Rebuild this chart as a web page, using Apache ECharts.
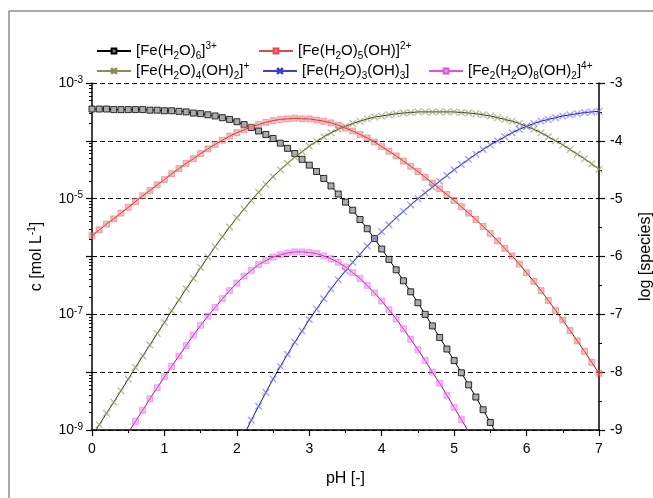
<!DOCTYPE html>
<html lang="en">
<head>
<meta charset="UTF-8">
<title>Fe(III) speciation</title>
<script src="https://cdn.jsdelivr.net/npm/echarts@6/dist/echarts.min.js"></script>
<style>
  html, body { margin: 0; padding: 0; background: #fff; }
</style>
</head>
<body>
<div id="main" style="width:653px;height:498px;"></div>
<script type="text/javascript">
// pH points (x), log10 concentration (y)
var ph = [0.0,0.1,0.2,0.3,0.4,0.5,0.6,0.7,0.8,0.9,
          1.0,1.1,1.2,1.3,1.4,1.5,1.6,1.7,1.8,1.9,
          2.0,2.1,2.2,2.3,2.4,2.5,2.6,2.7,2.8,2.9,
          3.0,3.1,3.2,3.3,3.4,3.5,3.6,3.7,3.8,3.9,
          4.0,4.1,4.2,4.3,4.4,4.5,4.6,4.7,4.8,4.9,
          5.0,5.1,5.2,5.3,5.4,5.5,5.6,5.7,5.8,5.9,
          6.0,6.1,6.2,6.3,6.4,6.5,6.6,6.7,6.8,6.9,
          7.0];

var feH2O6 = [-3.45,-3.45,-3.45,-3.46,-3.46,-3.46,-3.46,-3.46,-3.47,-3.47,
              -3.48,-3.48,-3.49,-3.50,-3.52,-3.53,-3.55,-3.57,-3.60,-3.63,
              -3.67,-3.72,-3.77,-3.83,-3.89,-3.96,-4.04,-4.13,-4.22,-4.32,
              -4.42,-4.53,-4.65,-4.78,-4.92,-5.06,-5.20,-5.36,-5.52,-5.69,
              -5.87,-6.05,-6.23,-6.42,-6.61,-6.80,-7.00,-7.20,-7.40,-7.60,
              -7.80,-8.01,-8.22,-8.43,-8.65,-8.87,-9.10,null,null,null,
              null,null,null,null,null,null,null,null,null,null,
              null];

var feOH = [-5.64,-5.54,-5.44,-5.35,-5.25,-5.15,-5.05,-4.95,-4.86,-4.76,
            -4.67,-4.57,-4.48,-4.39,-4.31,-4.22,-4.14,-4.06,-3.99,-3.92,
            -3.86,-3.81,-3.76,-3.72,-3.68,-3.65,-3.63,-3.62,-3.61,-3.62,
            -3.62,-3.64,-3.66,-3.69,-3.73,-3.78,-3.83,-3.89,-3.95,-4.02,
            -4.10,-4.18,-4.26,-4.35,-4.44,-4.53,-4.63,-4.73,-4.83,-4.93,
            -5.03,-5.14,-5.25,-5.36,-5.48,-5.60,-5.73,-5.86,-5.99,-6.13,
            -6.28,-6.43,-6.59,-6.76,-6.93,-7.10,-7.28,-7.46,-7.64,-7.83,
            -8.02];

var feOH2 = [-9.11,-8.91,-8.71,-8.52,-8.32,-8.12,-7.92,-7.72,-7.53,-7.33,
             -7.14,-6.94,-6.75,-6.56,-6.38,-6.19,-6.01,-5.83,-5.66,-5.49,
             -5.33,-5.18,-5.03,-4.89,-4.75,-4.62,-4.50,-4.39,-4.28,-4.19,
             -4.09,-4.01,-3.93,-3.86,-3.80,-3.75,-3.70,-3.66,-3.62,-3.59,
             -3.57,-3.55,-3.53,-3.52,-3.51,-3.50,-3.50,-3.50,-3.50,-3.50,
             -3.50,-3.51,-3.52,-3.53,-3.55,-3.57,-3.60,-3.63,-3.66,-3.70,
             -3.75,-3.80,-3.86,-3.93,-4.00,-4.07,-4.15,-4.23,-4.31,-4.40,
             -4.49];

var feOH3 = [null,null,null,null,null,null,null,null,null,null,
             null,null,null,null,null,null,null,null,null,null,
             -9.33,-9.08,-8.83,-8.59,-8.35,-8.12,-7.90,-7.69,-7.48,-7.29,
             -7.09,-6.91,-6.73,-6.56,-6.40,-6.25,-6.10,-5.96,-5.82,-5.69,
             -5.57,-5.45,-5.33,-5.22,-5.11,-5.00,-4.90,-4.80,-4.70,-4.60,
             -4.50,-4.41,-4.32,-4.23,-4.15,-4.07,-4.00,-3.93,-3.86,-3.80,
             -3.75,-3.70,-3.66,-3.63,-3.60,-3.57,-3.55,-3.53,-3.51,-3.50,
             -3.49];

var fe2OH2 = [null,null,null,null,-9.24,-9.05,-8.85,-8.66,-8.46,-8.27,
              -8.08,-7.90,-7.72,-7.54,-7.36,-7.19,-7.03,-6.88,-6.73,-6.59,
              -6.46,-6.34,-6.24,-6.14,-6.07,-6.01,-5.97,-5.94,-5.92,-5.92,
              -5.93,-5.95,-5.99,-6.04,-6.10,-6.18,-6.28,-6.38,-6.50,-6.63,
              -6.77,-6.92,-7.08,-7.25,-7.43,-7.61,-7.80,-8.00,-8.19,-8.40,
              -8.61,-8.82,-9.03,-9.25,null,null,null,null,null,null,
              null,null,null,null,null,null,null,null,null,null,
              null];

var legendLabels = {
    s1: '[Fe(H{b|2}O){b|6}]{t|3+}',
    s2: '[Fe(H{b|2}O){b|5}(OH)]{t|2+}',
    s3: '[Fe(H{b|2}O){b|4}(OH){b|2}]{t|+}',
    s4: '[Fe(H{b|2}O){b|3}(OH){b|3}]',
    s5: '[Fe{b|2}(H{b|2}O){b|8}(OH){b|2}]{t|4+}'
};

function pairs(arr) {
    var out = [];
    for (var i = 0; i < ph.length; i++) {
        if (arr[i] !== null) out.push([ph[i], arr[i]]);
    }
    return out;
}

// minor ticks of the log axis (2..9 inside each decade)
var logMinor = [];
for (var d = -9; d < -3; d++) {
    for (var k = 2; k <= 9; k++) logMinor.push(d + Math.log10(k));
}

var xMark = 'path://M0,1L1,0L5,4L9,0L10,1L6,5L10,9L9,10L5,6L1,10L0,9L4,5Z';
var font = 'Liberation Sans';
var richText = {
    b: { fontSize: 10, lineHeight: 10, verticalAlign: 'bottom', fontFamily: font, color: '#000' },
    t: { fontSize: 10, lineHeight: 10, verticalAlign: 'top', fontFamily: font, color: '#000' }
};

function makeSeries(name, arr, lineColor, sym, symColor, symBorder, size) {
    return {
        name: name,
        type: 'line',
        data: pairs(arr),
        showAllSymbol: true,
        symbol: sym,
        symbolSize: size,
        clip: true,
        lineStyle: { color: lineColor, width: 1 },
        itemStyle: { color: symColor, borderColor: symBorder, borderWidth: 0.8 },
        emphasis: { disabled: true },
        animation: false
    };
}

function legendItem(name, left, top, sym, line) {
    return {
        left: left, top: top,
        itemWidth: 34, itemHeight: 6, itemGap: 0,
        selectedMode: false,
        textStyle: { fontFamily: font, fontSize: 15, color: '#000', lineHeight: 20, rich: richText },
        formatter: function (n) { return legendLabels[n]; },
        data: [{ name: name, itemStyle: sym, lineStyle: { color: line } }]
    };
}

var myChart = echarts.init(document.getElementById('main'), null, { renderer: 'canvas' });

myChart.setOption({
    backgroundColor: '#fff',
    animation: false,
    grid: { left: 92, right: 54, top: 83, bottom: 68, containLabel: false, outerBoundsMode: 'none' },
    legend: [
        legendItem('s1', 91, 36, { color: '#777', borderColor: '#000' }, '#000'),
        legendItem('s2', 253, 36, { color: '#f08080', borderColor: '#e04848' }, '#e04848'),
        legendItem('s3', 91, 56, { color: '#b0b080', borderColor: '#8a8a5a' }, '#8a8a5a'),
        legendItem('s4', 257, 56, { color: '#8080f0', borderColor: '#4040d0' }, '#4040d0'),
        legendItem('s5', 423, 56, { color: '#f0a0f0', borderColor: '#e050e0' }, '#e050e0')
    ],
    xAxis: {
        type: 'value',
        min: 0, max: 7, interval: 1,
        name: 'pH [-]',
        nameLocation: 'middle',
        nameGap: 41,
        nameTextStyle: { fontFamily: font, fontSize: 16, color: '#000' },
        axisLine: { lineStyle: { color: '#000', width: 1.5 } },
        axisTick: { length: 6, lineStyle: { color: '#000', width: 1.2 } },
        minorTick: { show: true, splitNumber: 2, length: 3, lineStyle: { color: '#000', width: 1 } },
        axisLabel: { fontFamily: font, fontSize: 14, color: '#000', margin: 12 },
        splitLine: { show: false }
    },
    yAxis: [
        {
            type: 'value',
            min: -9, max: -3, interval: 1,
            position: 'left',
            name: 'c [mol L{t|-1}]',
            nameLocation: 'middle',
            nameRotate: 90,
            nameGap: 45,
            nameTextStyle: { fontFamily: font, fontSize: 16, color: '#000', lineHeight: 20,
                rich: { t: { fontSize: 10, lineHeight: 10, verticalAlign: 'top', fontFamily: font, color: '#000' } } },
            axisLine: { show: true, lineStyle: { color: '#000', width: 1.5 } },
            axisTick: { length: 6, lineStyle: { color: '#000', width: 1.2 } },
            axisLabel: {
                fontFamily: font, fontSize: 14, color: '#000', margin: 9, lineHeight: 16,
                formatter: function (v) { return (v % 2 !== 0) ? '10{t|' + v + '}' : ''; },
                rich: richText
            },
            splitLine: { show: true, lineStyle: { color: '#000', width: 1, type: [5, 3] } }
        },
        {
            type: 'value',
            min: -9, max: -3, interval: 1,
            position: 'right',
            name: 'log [species]',
            nameLocation: 'middle',
            nameRotate: 90,
            nameGap: 39,
            nameTextStyle: { fontFamily: font, fontSize: 16, color: '#000' },
            axisLine: { show: true, lineStyle: { color: '#000', width: 1.5 } },
            axisTick: { length: 6, lineStyle: { color: '#000', width: 1.2 } },
            minorTick: { show: true, splitNumber: 2, length: 3, lineStyle: { color: '#000', width: 1 } },
            axisLabel: { fontFamily: font, fontSize: 14, color: '#000', margin: 11 },
            splitLine: { show: false }
        },
        {
            type: 'value',
            min: -9, max: -3,
            position: 'left',
            axisLine: { show: false },
            axisLabel: { show: false },
            splitLine: { show: false },
            axisTick: { show: true, length: 3, customValues: logMinor, lineStyle: { color: '#000', width: 1 } }
        }
    ],
    graphic: [
        { type: 'line', shape: { x1: 9, y1: 11, x2: 653, y2: 11 }, style: { stroke: '#555', lineWidth: 1 } },
        { type: 'line', shape: { x1: 9, y1: 11, x2: 9, y2: 498 }, style: { stroke: '#555', lineWidth: 1 } }
    ],
    series: [
        makeSeries('s1', feH2O6, '#000', 'rect', '#ababab', '#000', 6),
        makeSeries('s2', feOH, '#9a1515', 'rect', 'rgba(240,120,120,0.5)', 'rgba(230,90,90,0.55)', 6),
        makeSeries('s3', feOH2, '#2e2e12', xMark, 'rgba(150,150,100,0.65)', 'rgba(150,150,100,0.3)', 7),
        makeSeries('s4', feOH3, '#10108a', xMark, 'rgba(110,110,240,0.65)', 'rgba(110,110,240,0.3)', 7),
        makeSeries('s5', fe2OH2, '#8a108a', 'rect', 'rgba(240,120,240,0.5)', 'rgba(230,90,230,0.55)', 6)
    ]
});
</script>
</body>
</html>
